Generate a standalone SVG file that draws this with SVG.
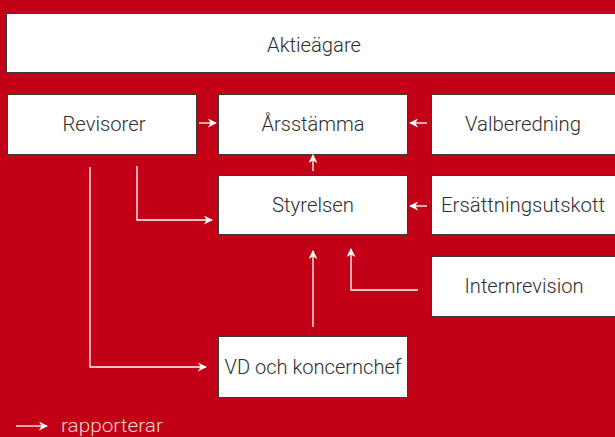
<svg xmlns="http://www.w3.org/2000/svg" width="615" height="437" viewBox="0 0 615 437">
<style>
.box{fill:#fff;stroke:#3a3a3a;stroke-width:1}
.lbl{font-family:Roboto,"Liberation Sans",Arial,sans-serif;font-weight:300;font-size:21px;fill:#2e2e2e;text-anchor:middle}
.con{fill:none;stroke:#fff;stroke-width:1.3;marker-end:url(#ah)}
</style>
<defs>
<marker id="ah" viewBox="0 0 10 10" refX="9" refY="5" markerWidth="9" markerHeight="9" markerUnits="userSpaceOnUse" orient="auto">
<path d="M0,0 L10,5 L0,10 L3,5 z" fill="#fff"/>
</marker>
</defs>
<rect width="615" height="437" fill="#C20016"/>
<g id="aktieagare"><rect class="box" x="6.5" y="13.5" width="620" height="59"/><text class="lbl" x="314" y="52" textLength="94" lengthAdjust="spacingAndGlyphs">Aktieägare</text></g>
<g id="revisorer"><rect class="box" x="7.5" y="94.5" width="189" height="60"/><text class="lbl" x="104" y="131" textLength="83" lengthAdjust="spacingAndGlyphs">Revisorer</text></g>
<g id="arsstamma"><rect class="box" x="218.5" y="94.5" width="189" height="60"/><text class="lbl" x="313" y="131" textLength="103" lengthAdjust="spacingAndGlyphs">Årsstämma</text></g>
<g id="valberedning"><rect class="box" x="431.5" y="94.5" width="190" height="60"/><text class="lbl" x="523" y="131" textLength="116" lengthAdjust="spacingAndGlyphs">Valberedning</text></g>
<g id="styrelsen"><rect class="box" x="218.5" y="175.5" width="189" height="59"/><text class="lbl" x="313" y="212" textLength="82" lengthAdjust="spacingAndGlyphs">Styrelsen</text></g>
<g id="ersattningsutskott"><rect class="box" x="431.5" y="175.5" width="190" height="59"/><text class="lbl" x="523" y="212" textLength="164" lengthAdjust="spacingAndGlyphs">Ersättningsutskott</text></g>
<g id="internrevision"><rect class="box" x="431.5" y="256.5" width="190" height="60"/><text class="lbl" x="524" y="293" textLength="119" lengthAdjust="spacingAndGlyphs">Internrevision</text></g>
<g id="vd"><rect class="box" x="218.5" y="336.5" width="189" height="61"/><text class="lbl" x="313" y="374" textLength="177" lengthAdjust="spacingAndGlyphs">VD och koncernchef</text></g>
<g id="connectors">
<path class="con" d="M199,123 H216"/>
<path class="con" d="M427,123 H410"/>
<path class="con" d="M313,171 V155"/>
<path class="con" d="M427,206 H410"/>
<path class="con" d="M137,166 V220 H212"/>
<path class="con" d="M90,167 V367 H206"/>
<path class="con" d="M313,327 V251"/>
<path class="con" d="M418,290 H351 V249"/>
</g>
<g id="legend">
<path class="con" d="M16,426 H47"/>
<text x="61" y="432" font-family="Roboto,'Liberation Sans',Arial,sans-serif" font-weight="300" font-size="19" fill="#f6d2d4" textLength="102" lengthAdjust="spacingAndGlyphs">rapporterar</text>
</g>
</svg>
